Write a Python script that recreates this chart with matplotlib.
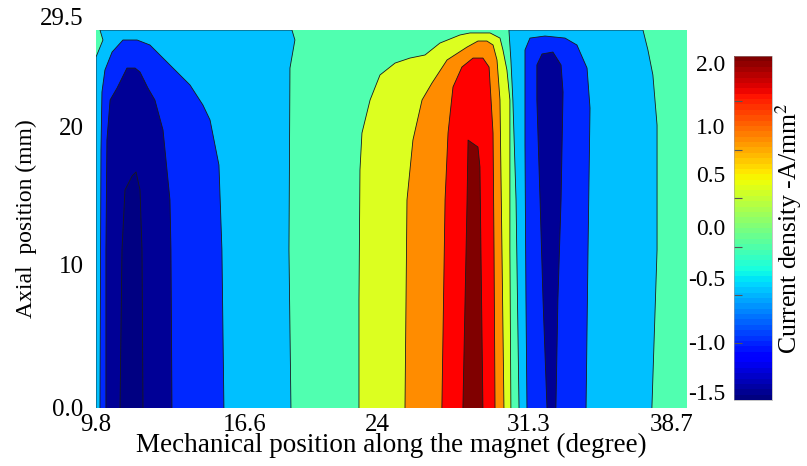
import numpy as np
import matplotlib.pyplot as plt
import matplotlib as mpl

plt.rcParams['font.family'] = 'Liberation Serif'
plt.rcParams['mathtext.fontset'] = 'stix'
plt.rcParams['font.size'] = 18

# contour regions: outline x (degree) and y (mm)
# order: bottom-left, bottom-right, up the right side, across the top, down the left side
lb1_x = [9.80, 19.63, 19.53, 19.58, 19.83, 19.68, 10.00, 10.15, 9.80]
lb1_y = [0, 0, 12.33, 26.53, 28.72, 29.50, 29.50, 28.72, 27.39]

b1_x = [10.00, 16.25, 16.15, 16.00, 15.55, 15.19, 14.54, 13.53, 12.52, 11.87, 11.16, 10.61, 10.25, 10.10, 10.05]
b1_y = [0, 0, 12.33, 18.96, 22.48, 23.65, 25.21, 26.77, 28.33, 28.72, 28.72, 27.78, 26.38, 24.66, 20.13]

n1_x = [10.30, 13.63, 13.58, 13.53, 13.18, 12.77, 12.42, 12.02, 11.77, 11.36, 10.86, 10.51, 10.35, 10.30]
n1_y = [0, 0, 12.33, 16.23, 21.70, 24.04, 24.97, 26.22, 26.53, 26.53, 24.97, 24.04, 20.91, 12.33]

n1b_x = [11.01, 12.17, 12.12, 12.02, 11.82, 11.62, 11.26, 11.11]
n1b_y = [0, 0, 12.33, 17.01, 18.42, 18.11, 17.01, 12.33]

yel_x = [23.06, 30.72, 30.67, 30.67, 30.52, 30.32, 30.17, 29.67, 28.66, 28.15, 27.14, 26.39, 25.63, 24.88, 24.12, 23.62, 23.21, 23.11, 23.06]
yel_y = [0, 0, 12.33, 24.04, 26.38, 27.94, 28.87, 29.27, 29.27, 29.11, 28.48, 27.55, 27.31, 26.92, 25.99, 24.04, 21.46, 18.57, 8.43]

ora_x = [25.38, 30.37, 30.27, 30.17, 30.02, 29.82, 29.51, 29.06, 28.51, 27.50, 26.74, 26.24, 25.78, 25.48]
ora_y = [0, 0, 12.33, 24.04, 27.16, 28.33, 28.64, 28.64, 28.17, 27.16, 25.36, 24.04, 20.91, 16.23]

red_x = [27.24, 29.92, 29.87, 29.82, 29.62, 29.31, 28.81, 28.25, 27.80, 27.55, 27.40]
red_y = [0, 0, 12.33, 21.46, 26.61, 27.31, 27.31, 26.61, 25.05, 21.46, 16.23]

dred_x = [28.30, 29.31, 29.21, 29.16, 29.06, 28.56, 28.51]
dred_y = [0, 0, 12.33, 18.81, 20.37, 20.91, 16.23]

lb2_x = [31.13, 37.83, 38.09, 38.09, 37.88, 37.63, 37.38, 30.62, 30.72, 30.82, 30.98]
lb2_y = [0, 0, 12.33, 22.08, 25.99, 27.94, 29.50, 29.50, 27.16, 24.04, 16.23]

b2_x = [31.53, 34.51, 34.61, 34.71, 34.56, 34.05, 33.45, 32.44, 31.68, 31.43, 31.43, 31.48]
b2_y = [0, 0, 12.33, 23.41, 26.53, 28.33, 28.87, 29.03, 28.87, 27.94, 20.52, 8.43]

n2_x = [32.54, 32.99, 33.09, 33.25, 33.35, 33.25, 32.84, 32.29, 32.03, 32.03, 32.19, 32.34]
n2_y = [0, 0, 8.43, 16.23, 24.66, 26.77, 27.78, 27.63, 26.77, 24.04, 16.23, 8.43]

# colour bar tick labels (placed where they sit in the picture) and its tick marks
cbar_labels = ['-1.5', '-1.0', '-0.5', '0.0', '0.5', '1.0', '2.0']
cbar_pos = [0.023, 0.169, 0.355, 0.503, 0.657, 0.797, 0.98]
cbar_marks = [0.166, 0.305, 0.445, 0.587, 0.727, 0.869]

x_tick_labels = ['9.8', '16.6', '24', '31.3', '38.7']
x_tick_at = [9.8, 17.3, 24.0, 31.6, 38.8]
y_tick_labels = ['0.0', '10', '20', '29.5']
y_tick_at = [0, 11.2, 22.0, 29.5]

regions = [
    (lb1_x, lb1_y, '#00C0FF'),
    (b1_x, b1_y, '#0028FF'),
    (n1_x, n1_y, '#000096'),
    (n1b_x, n1b_y, '#000082'),
    (yel_x, yel_y, '#DCFF20'),
    (ora_x, ora_y, '#FF8C00'),
    (red_x, red_y, '#FF0000'),
    (dred_x, dred_y, '#800000'),
    (lb2_x, lb2_y, '#00C0FF'),
    (b2_x, b2_y, '#0028FF'),
    (n2_x, n2_y, '#000096'),
]

fig = plt.figure(figsize=(8.07, 4.66), dpi=100)
ax = fig.add_axes([96 / 807, 58 / 466, 591 / 807, 378 / 466])
ax.set_facecolor('#50FFB0')

for xs, ys, c in regions:
    ax.fill(xs, ys, color=c, lw=0)
    # outline without the bottom edge
    ax.plot(xs[1:] + xs[:1], ys[1:] + ys[:1], color='#1a1a1a', lw=0.6)

ax.set_xlim(9.8, 39.6)
ax.set_ylim(0, 29.5)
for s in ax.spines.values():
    s.set_visible(False)
ax.set_xticks(x_tick_at)
ax.set_xticklabels(x_tick_labels)
ax.set_yticks(y_tick_at)
ax.set_yticklabels(y_tick_labels)
ax.tick_params(length=0)
ax.tick_params(axis='x', pad=4)
ax.tick_params(axis='y', pad=9)
ax.get_yticklabels()[-1].set_verticalalignment('bottom')
ax.set_xlabel('Mechanical position along the magnet (degree)', fontsize=19.5, labelpad=-2)
ax.set_ylabel('Axial  position (mm)', fontsize=17, labelpad=2)

cax = fig.add_axes([734 / 807, 66 / 466, 38 / 807, 344 / 466])
sm = mpl.cm.ScalarMappable(norm=mpl.colors.Normalize(0, 1), cmap=plt.get_cmap('jet', 64))
cb = fig.colorbar(sm, cax=cax)
cb.set_ticks(cbar_pos)
cb.set_ticklabels(cbar_labels)
cb.outline.set_linewidth(0.4)
cb.outline.set_edgecolor('#999999')
cax.yaxis.set_ticks_position('left')
cax.tick_params(length=0, pad=6, labelsize=17)
cax.set_yticks(cbar_marks, minor=True)
cax.tick_params(which='minor', direction='in', length=6, width=0.8, color='#555555')
cax.yaxis.set_label_position('right')
cb.set_label('Current density -A/mm$^2$', fontsize=18.5, labelpad=1)

fig.savefig('out.png', dpi=100)
